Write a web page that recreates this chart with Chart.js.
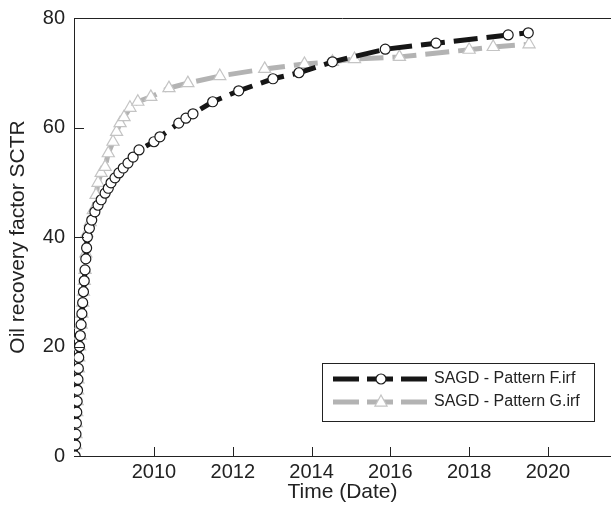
<!DOCTYPE html>
<html>
<head>
<meta charset="utf-8">
<script src="https://cdn.jsdelivr.net/npm/chart.js@4/dist/chart.umd.min.js"></script>
<style>
  html, body { margin: 0; padding: 0; background: #fff; }
  #wrap { width: 611px; height: 506px; }
</style>
</head>
<body>
<div id="wrap"><canvas id="myChart" width="611" height="506"></canvas></div>
<script>
// SAGD - Pattern F (years as decimal dates, recovery factor %)
var yearsF = [2008.00, 2008.01, 2008.02, 2008.03, 2008.04, 2008.05, 2008.06, 2008.07, 2008.08, 2008.09,
              2008.11, 2008.13, 2008.15, 2008.17, 2008.19, 2008.21, 2008.23, 2008.25, 2008.27, 2008.29,
              2008.31, 2008.36, 2008.42, 2008.50, 2008.58, 2008.66, 2008.76, 2008.84, 2008.91, 2009.01,
              2009.11, 2009.22, 2009.34, 2009.47, 2009.62, 2010.00, 2010.15, 2010.63, 2010.81, 2010.99,
              2011.49, 2012.15, 2013.02, 2013.68, 2014.53, 2015.87, 2017.16, 2018.99, 2019.50];
var valuesF = [0, 2, 4, 6, 8, 10, 12, 14, 16, 18,
               20, 22, 24, 26, 28, 30, 32, 34, 36, 38,
               40, 41.6, 43.1, 44.6, 45.8, 46.8, 48.0, 48.9, 49.9, 50.8,
               51.7, 52.6, 53.5, 54.6, 55.9, 57.4, 58.3, 60.8, 61.7, 62.5,
               64.7, 66.7, 68.9, 70.0, 72.0, 74.3, 75.4, 76.9, 77.3];

// SAGD - Pattern G
var yearsG = [2008.00, 2008.01, 2008.02, 2008.03, 2008.04, 2008.05, 2008.06, 2008.07, 2008.08, 2008.09,
              2008.11, 2008.13, 2008.15, 2008.17, 2008.19, 2008.21, 2008.23, 2008.25, 2008.27, 2008.30,
              2008.38, 2008.46, 2008.53, 2008.58, 2008.66, 2008.76, 2008.84, 2008.96, 2009.05, 2009.14,
              2009.24, 2009.39, 2009.59, 2009.92, 2010.38, 2010.86, 2011.67, 2012.81, 2013.82, 2014.53,
              2015.09, 2016.23, 2018.00, 2018.61, 2019.52];
var valuesG = [0, 2, 4, 6, 8, 10, 12, 14, 16, 18,
               20, 22, 24, 26, 28, 30, 32, 34, 37, 40.7,
               42.7, 44.9, 47.7, 49.9, 51.7, 52.8, 55.3, 57.4, 59.2, 60.8,
               61.9, 63.6, 64.7, 65.6, 67.2, 68.1, 69.4, 70.7, 71.6, 72.0,
               72.5, 72.9, 74.2, 74.7, 75.2];

var seriesNames = ['SAGD - Pattern F.irf', 'SAGD - Pattern G.irf'];
var xTicks = [2010, 2012, 2014, 2016, 2018, 2020];
var yTicks = [0, 20, 40, 60, 80];

function toPoints(xs, ys) {
    return xs.map(function(x, i) { return { x: x, y: ys[i] }; });
}

var FONT = "'Liberation Sans', Arial, Helvetica, sans-serif";

// inner tick marks, top frame line and legend box
var extras = {
    id: 'extras',
    afterDatasetsDraw: function(chart) {
        var ctx = chart.ctx, a = chart.chartArea;
        var xs = chart.scales.x, ys = chart.scales.y;
        ctx.save();
        ctx.strokeStyle = '#222';
        ctx.lineWidth = 1;
        ctx.beginPath();
        ctx.moveTo(a.left, a.top + 0.5);
        ctx.lineTo(a.right, a.top + 0.5);
        xTicks.forEach(function(v) {
            var px = Math.round(xs.getPixelForValue(v)) + 0.5;
            ctx.moveTo(px, a.bottom);
            ctx.lineTo(px, a.bottom - 9);
        });
        yTicks.forEach(function(v) {
            var py = Math.round(ys.getPixelForValue(v)) + 0.5;
            ctx.moveTo(a.left, py);
            ctx.lineTo(a.left + 10, py);
        });
        ctx.stroke();

        // legend
        var bx = 322, by = 363, bw = 272, bh = 58;
        ctx.fillStyle = '#fff';
        ctx.fillRect(bx, by, bw, bh);
        ctx.strokeStyle = '#222';
        ctx.strokeRect(bx + 0.5, by + 0.5, bw, bh);
        chart.data.datasets.forEach(function(ds, i) {
            var y = 379 + i * 23;
            ctx.save();
            ctx.strokeStyle = ds.borderColor;
            ctx.lineWidth = ds.borderWidth;
            ctx.setLineDash([26, 8]);
            ctx.beginPath();
            ctx.moveTo(333, y);
            ctx.lineTo(428, y);
            ctx.stroke();
            ctx.setLineDash([]);
            ctx.fillStyle = '#fff';
            ctx.strokeStyle = ds.pointBorderColor;
            ctx.lineWidth = ds.pointBorderWidth;
            ctx.beginPath();
            if (ds.pointStyle === 'triangle') {
                var r = ds.pointRadius;
                ctx.moveTo(381, y - r);
                ctx.lineTo(381 + r * 0.87, y + r * 0.6);
                ctx.lineTo(381 - r * 0.87, y + r * 0.6);
                ctx.closePath();
            } else {
                ctx.arc(381, y, ds.pointRadius, 0, Math.PI * 2);
            }
            ctx.fill();
            ctx.stroke();
            ctx.restore();
            ctx.fillStyle = '#222';
            ctx.font = '16px ' + FONT;
            ctx.textBaseline = 'middle';
            ctx.textAlign = 'left';
            ctx.fillText(ds.label, 434, y);
        });
        ctx.restore();
    }
};

var ctx = document.getElementById('myChart').getContext('2d');
var graphData = {
    type: 'line',
    data: {
        datasets: [{
            label: seriesNames[0],
            data: toPoints(yearsF, valuesF),
            borderColor: '#161616',
            borderWidth: 5,
            borderDash: [24, 9],
            pointStyle: 'circle',
            pointRadius: 5,
            pointBackgroundColor: '#fff',
            pointBorderColor: '#1a1a1a',
            pointBorderWidth: 1.2,
            tension: 0,
            order: 1
        }, {
            label: seriesNames[1],
            data: toPoints(yearsG, valuesG),
            borderColor: '#b3b3b3',
            borderWidth: 5,
            borderDash: [24, 9],
            pointStyle: 'triangle',
            pointRadius: 7,
            pointBackgroundColor: '#fff',
            pointBorderColor: '#c4c4c4',
            pointBorderWidth: 1.2,
            tension: 0,
            order: 2
        }]
    },
    options: {
        responsive: false,
        animation: false,
        layout: { autoPadding: false, padding: { top: 18, right: 0, left: 0, bottom: 0 } },
        plugins: {
            legend: { display: false },
            tooltip: { enabled: false }
        },
        scales: {
            x: {
                type: 'linear',
                min: 2007.97,
                max: 2021.6,
                afterBuildTicks: function(scale) {
                    scale.ticks = xTicks.map(function(v) { return { value: v }; });
                },
                afterFit: function(scale) {
                    scale.height = 50;
                    scale.paddingLeft = 0;
                    scale.paddingRight = 0;
                },
                grid: { display: false, drawTicks: false },
                border: { color: '#222', width: 1 },
                ticks: {
                    font: { family: FONT, size: 20 },
                    color: '#222',
                    padding: 4,
                    maxRotation: 0,
                    callback: function(v) { return String(v); }
                },
                title: {
                    display: true,
                    text: 'Time (Date)',
                    font: { family: FONT, size: 21 },
                    color: '#222',
                    padding: { top: 0, bottom: 1 }
                }
            },
            y: {
                min: 0,
                max: 80,
                afterBuildTicks: function(scale) {
                    scale.ticks = yTicks.map(function(v) { return { value: v }; });
                },
                afterFit: function(scale) {
                    scale.width = 74;
                    scale.paddingTop = 0;
                    scale.paddingBottom = 0;
                },
                grid: { display: false, drawTicks: false },
                border: { color: '#222', width: 1 },
                ticks: {
                    font: { family: FONT, size: 20 },
                    color: '#222',
                    padding: 9
                },
                title: {
                    display: true,
                    text: 'Oil recovery factor SCTR',
                    font: { family: FONT, size: 21 },
                    color: '#222',
                    padding: { top: 6, bottom: 0 }
                }
            }
        }
    },
    plugins: [extras]
};
var myChart = new Chart(ctx, graphData);
</script>
</body>
</html>
